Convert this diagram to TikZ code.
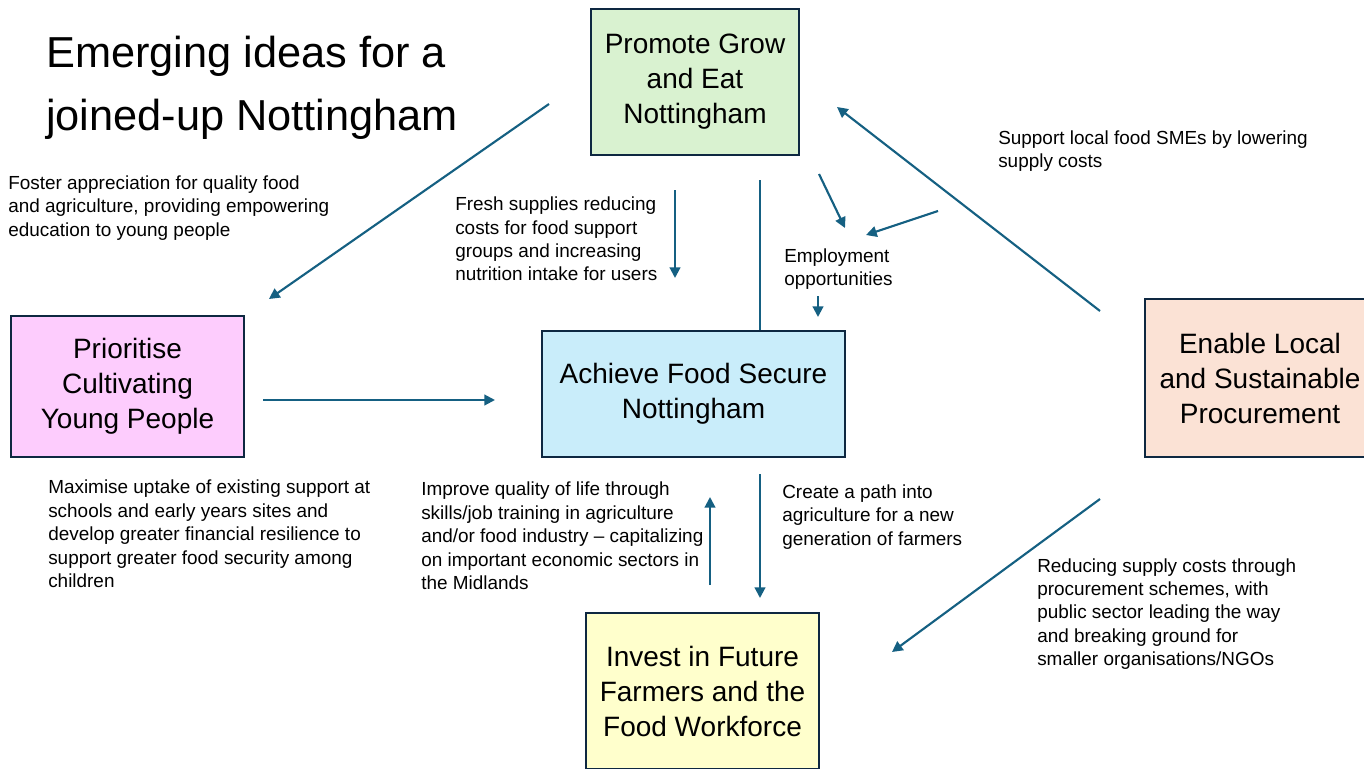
\documentclass[tikz,border=0pt]{standalone}
\usepackage{fontspec}
\setmainfont{Liberation Sans}
\usetikzlibrary{arrows.meta}

\definecolor{linkblue}{HTML}{156082}
\definecolor{boxedge}{HTML}{0E2841}
\definecolor{growgreen}{HTML}{D9F2D0}
\definecolor{youngpink}{HTML}{FDCCFD}
\definecolor{securecyan}{HTML}{C9EDFA}
\definecolor{procpeach}{HTML}{FBE2D5}
\definecolor{investyellow}{HTML}{FFFFCC}

\begin{document}
\begin{tikzpicture}[x=0.75pt,y=-0.75pt,
  goal/.style={draw=boxedge, line width=1.8pt, inner sep=0pt, align=center,
    font=\fontsize{21}{26.25}\selectfont},
  note/.style={anchor=west, align=left, inner sep=0pt,
    font=\fontsize{14.2}{17.55}\selectfont},
  link/.style={draw=linkblue, line width=1.6pt}]
\useasboundingbox (0,0) rectangle (1364,768);
\clip (0,0) rectangle (1364,768);

% title
\node[anchor=west, align=left, inner sep=0pt, font=\fontsize{32.5}{47.5}\selectfont] (title) at (46,88)
  {Emerging ideas for a\\joined-up Nottingham};

% the five goals
\node[goal, fill=growgreen, minimum width=156pt, minimum height=109.5pt] (grow) at (695,82)
  {Promote Grow\\and Eat\\Nottingham};
\node[goal, fill=youngpink, minimum width=174.75pt, minimum height=105.75pt] (young) at (127.5,386.5)
  {Prioritise\\Cultivating\\Young People};
\node[goal, fill=securecyan, minimum width=227.25pt, minimum height=94.5pt] (secure) at (693.5,394)
  {Achieve Food Secure\\Nottingham};
\node[goal, fill=procpeach, minimum width=172.5pt, minimum height=118.5pt] (proc) at (1260,378)
  {Enable Local\\and Sustainable\\Procurement};
\node[goal, fill=investyellow, minimum width=174.75pt, minimum height=117pt] (invest) at (702.5,691)
  {Invest in Future\\Farmers and the\\Food Workforce};

% notes
\node[note] (foster) at (8,208)
  {Foster appreciation for quality food\\and agriculture, providing empowering\\education to young people};
\node[note] (fresh) at (455,239)
  {Fresh supplies reducing\\costs for food support\\groups and increasing\\nutrition intake for users};
\node[note] (jobs) at (784,269)
  {Employment\\opportunities};
\node[note] (smes) at (998,151)
  {Support local food SMEs by lowering\\supply costs};
\node[note] (uptake) at (48,534)
  {Maximise uptake of existing support at\\schools and early years sites and\\develop greater financial resilience to\\support greater food security among\\children};
\node[note] (skills) at (421,536)
  {Improve quality of life through\\skills/job training in agriculture\\and/or food industry -- capitalizing\\on important economic sectors in\\the Midlands};
\node[note] (path) at (782,517)
  {Create a path into\\agriculture for a new\\generation of farmers};
\node[note] (schemes) at (1037,614)
  {Reducing supply costs through\\procurement schemes, with\\public sector leading the way\\and breaking ground for\\smaller organisations/NGOs};

% free ends of the connectors
\coordinate (a1) at (549,104);  \coordinate (a2) at (269,299);
\coordinate (b1) at (675,190);  \coordinate (b2) at (675,278);
\coordinate (c1) at (760,180);
\coordinate (d1) at (819,174);  \coordinate (d2) at (845,228);
\coordinate (e1) at (938,211);  \coordinate (e2) at (866,235);
\coordinate (f1) at (818,296);  \coordinate (f2) at (818,317);
\coordinate (g1) at (1100,311); \coordinate (g2) at (837,107);
\coordinate (h1) at (263,400);  \coordinate (h2) at (495,400);
\coordinate (i1) at (710,585);  \coordinate (i2) at (710,497);
\coordinate (j1) at (760,474);  \coordinate (j2) at (760,598);
\coordinate (k1) at (1100,499); \coordinate (k2) at (892,652);

\path[every edge/.style={link, -{Triangle[length=8pt,width=8pt]}}]
(a1) edge (a2)
(b1) edge (b2)
(d1) edge (d2)
(e1) edge (e2)
(f1) edge (f2)
(g1) edge (g2)
(h1) edge (h2)
(i1) edge (i2)
(j1) edge (j2)
(k1) edge (k2);
\draw[link] (c1) -- (c1 |- secure.north);
\end{tikzpicture}
\end{document}
